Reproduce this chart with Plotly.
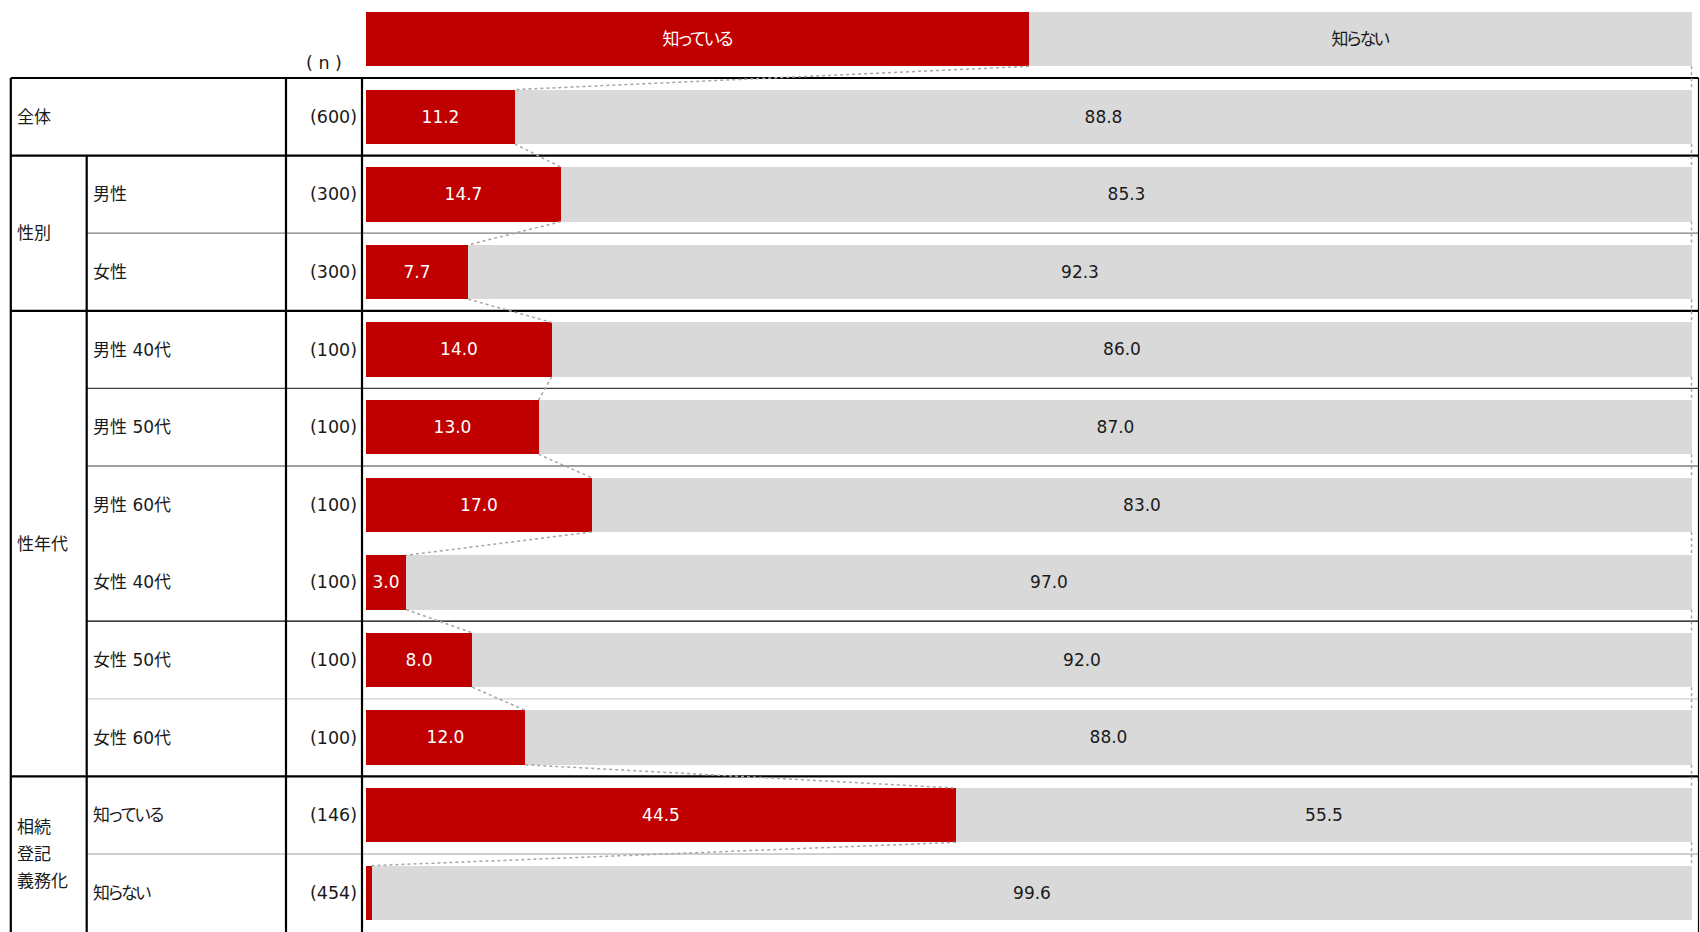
import plotly.graph_objects as go

# ---------------- data ----------------
header_labels = ["知っている", "知らない"]
header_share = [50, 50]

group_labels = ["全体", "性別", "性年代", "相続\n登記\n義務化"]
group_spans = [(0, 0), (1, 2), (3, 8), (9, 10)]

sub_labels = ["", "男性", "女性", "男性 40代", "男性 50代", "男性 60代",
              "女性 40代", "女性 50代", "女性 60代", "知っている", "知らない"]
n_values = [600, 300, 300, 100, 100, 100, 100, 100, 100, 146, 454]
know = [11.2, 14.7, 7.7, 14.0, 13.0, 17.0, 3.0, 8.0, 12.0, 44.5, 0.4]
dont_know = [88.8, 85.3, 92.3, 86.0, 87.0, 83.0, 97.0, 92.0, 88.0, 55.5, 99.6]

# ---------------- style ----------------
W, H = 1700, 932
RED = "#C00000"
GRAY = "#D9D9D9"
TXT = "#1a1a1a"
FONT = "DejaVu Sans, Noto Sans CJK JP, sans-serif"
FS = 17
FS_NUM = 17.5
BAR_W = 0.7


def kana(s):
    # tighten spacing for words with kana (proportional look of the original)
    if any("\u3040" <= ch <= "\u30ff" for ch in s):
        return f'<span style="letter-spacing:-3px">{s}</span>'
    return s


rows = list(range(len(know)))

fig = go.Figure()
fig.add_trace(go.Bar(
    y=rows, x=know, orientation="h", width=BAR_W, marker_color=RED,
    marker_line_width=0, texttemplate="%{x:.1f}", textposition="inside",
    insidetextanchor="middle", textfont=dict(color="white", size=FS_NUM, family=FONT),
    showlegend=False, hoverinfo="skip"))
fig.add_trace(go.Bar(
    y=rows, x=dont_know, orientation="h", width=BAR_W, marker_color=GRAY,
    marker_line_width=0, texttemplate="%{x:.1f}", textposition="inside",
    insidetextanchor="middle", textfont=dict(color=TXT, size=FS_NUM, family=FONT),
    showlegend=False, hoverinfo="skip"))
# header bar (legend row)
fig.add_trace(go.Bar(
    y=[-1], x=[header_share[0]], orientation="h", width=BAR_W, marker_color=RED,
    marker_line_width=0, text=[kana(header_labels[0])], textposition="inside",
    insidetextanchor="middle", textfont=dict(color="white", size=FS, family=FONT),
    showlegend=False, hoverinfo="skip"))
fig.add_trace(go.Bar(
    y=[-1], x=[header_share[1]], orientation="h", width=BAR_W, marker_color=GRAY,
    marker_line_width=0, text=[kana(header_labels[1])], textposition="inside",
    insidetextanchor="middle", textfont=dict(color=TXT, size=FS, family=FONT),
    showlegend=False, hoverinfo="skip"))

shapes = []
# dotted connectors between consecutive bars
ends = [header_share[0]] + know
for i in range(len(ends) - 1):
    y0 = (i - 1) + BAR_W / 2
    y1 = i - BAR_W / 2
    for xa, xb in [(ends[i], ends[i + 1]), (100, 100)]:
        shapes.append(dict(type="line", xref="x", yref="y", x0=xa, x1=xb, y0=y0, y1=y1,
                           line=dict(color="#A6A6A6", width=1.5, dash="dot"), layer="above"))

# table grid
def px(x):
    return x / W

X_LEFT, X_SUB, X_N, X_BAR, X_RIGHT = 10.8, 86.7, 286.0, 362.0, 1698.5
boundary_styles = {
    -0.5: (X_LEFT, "black", 2.2),
    0.5: (X_LEFT, "black", 2.2),
    1.5: (X_SUB, "#7f7f7f", 1.2),
    2.5: (X_LEFT, "black", 2.2),
    3.5: (X_SUB, "#404040", 1.2),
    4.5: (X_SUB, "#404040", 1.2),
    6.5: (X_SUB, "#000000", 1.2),
    7.5: (X_SUB, "#d0d0d0", 1.2),
    8.5: (X_LEFT, "black", 2.2),
    9.5: (X_SUB, "#a0a0a0", 1.2),
}
for yb, (xs, col, lw) in boundary_styles.items():
    shapes.append(dict(type="line", xref="paper", yref="y", x0=px(xs), x1=px(X_RIGHT),
                       y0=yb, y1=yb, line=dict(color=col, width=lw), layer="below"))
for xv, ytop, lw in [(X_LEFT, -0.5, 2.2), (X_SUB, 0.5, 2.2), (X_N, -0.5, 2.2),
                     (X_BAR, -0.5, 2.2), (X_RIGHT, -0.5, 1.2)]:
    shapes.append(dict(type="line", xref="paper", yref="y", x0=px(xv), x1=px(xv),
                       y0=ytop, y1=10.6, line=dict(color="black", width=lw), layer="below"))

annotations = []
def ann(text, x, y, xanchor="left", yshift=0, size=FS):
    annotations.append(dict(text=text, xref="paper", yref="y", x=x, y=y, xanchor=xanchor,
                            yanchor="middle", showarrow=False, yshift=yshift,
                            font=dict(size=size, color=TXT, family=FONT)))

for label, (r0, r1) in zip(group_labels, group_spans):
    yc = (r0 + r1) / 2
    parts = label.split("\n")
    k = len(parts)
    for j, p in enumerate(parts):
        ann(p, px(15), yc, yshift=(k - 1) / 2 * 27 - j * 27)
for r, lab in enumerate(sub_labels):
    if lab:
        ann(kana(lab), px(91), r)
for r, n in enumerate(n_values):
    ann(f"({n})", px(359), r, xanchor="right", size=FS_NUM)
ann("( n )", px(324), -0.69, xanchor="center", size=FS_NUM)

fig.update_layout(
    width=W, height=H, margin=dict(l=0, r=0, t=0, b=0),
    paper_bgcolor="white", plot_bgcolor="white",
    barmode="stack", bargap=0,
    uniformtext=dict(minsize=FS, mode="hide"),
    xaxis=dict(range=[-27.64, 100.64], visible=False, fixedrange=True),
    yaxis=dict(range=[10.505, -1.505], visible=False, fixedrange=True),
    shapes=shapes, annotations=annotations,
    font=dict(family=FONT, size=FS, color=TXT),
)

fig.write_html("out.html", config={"displayModeBar": False},
               post_script="document.body.style.margin='0';document.body.style.overflow='hidden';")
